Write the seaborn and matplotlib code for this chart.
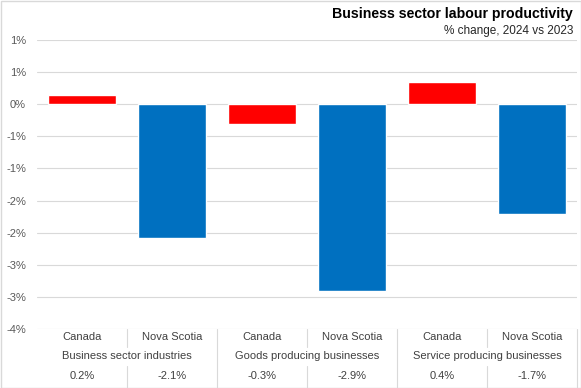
import numpy as np
import pandas as pd
import seaborn as sns
import matplotlib
matplotlib.use('Agg')
from matplotlib import pyplot as plt
from matplotlib.transforms import blended_transform_factory

# data
regions = ['Canada', 'Nova Scotia', 'Canada', 'Nova Scotia', 'Canada', 'Nova Scotia']
groups = ['Business sector industries', 'Goods producing businesses', 'Service producing businesses']
values = [0.14, -2.09, -0.31, -2.91, 0.34, -1.71]
value_labels = ['0.2%', '-2.1%', '-0.3%', '-2.9%', '0.4%', '-1.7%']
yticks = [1.0, 0.5, 0.0, -0.5, -1.0, -1.5, -2.0, -2.5, -3.0, -3.5]
ytick_labels = ['1%', '1%', '0%', '-1%', '-1%', '-2%', '-2%', '-3%', '-3%', '-4%']

df = pd.DataFrame({'pos': [str(i) for i in range(len(values))], 'region': regions, 'value': values})

sns.set_style('white')
plt.rcParams['font.family'] = ['Liberation Sans', 'DejaVu Sans']

W, H = 581, 388
fig = plt.figure(figsize=(W / 100, H / 100), dpi=100)
ax = fig.add_axes([37 / W, 1 - 329 / H, 540 / W, 289 / H])

sns.barplot(data=df, x='pos', y='value', hue='region', dodge=False, width=0.76,
            palette={'Canada': '#ff0000', 'Nova Scotia': '#0070c0'}, legend=False,
            saturation=1, ax=ax)

ax.set_xlim(-0.5, 5.5)
ax.set_ylim(-3.5, 1.0)
ax.set_yticks(yticks)
ax.set_yticklabels(ytick_labels, fontsize=8, color='#595959')
ax.tick_params(axis='y', length=0, pad=8)
ax.set_xticks([])
ax.set_xlabel('')
ax.set_ylabel('')
for s in ax.spines.values():
    s.set_visible(False)
for y in yticks:
    ax.axhline(y, color='#d9d9d9', lw=0.8, zorder=0)

# category table under the axis
tr = blended_transform_factory(ax.transData, fig.transFigure)
row1, row2, row3 = 1 - 337 / H, 1 - 356 / H, 1 - 376 / H
txt = dict(transform=tr, ha='center', va='center', fontsize=8, color='#404040')
for i, (r, lab) in enumerate(zip(regions, value_labels)):
    ax.text(i, row1, r, **txt)
    ax.text(i, row3, lab, **txt)
for g, name in enumerate(groups):
    ax.text(2 * g + 0.5, row2, name, **txt)

lc = '#d9d9d9'
for b in [1.5, 3.5, 5.5]:
    ax.plot([b, b], [1 - 329 / H, 0], transform=tr, color=lc, lw=0.8, clip_on=False)
for b in [0.5, 2.5, 4.5]:
    ax.plot([b, b], [1 - 329 / H, 1 - 347 / H], transform=tr, color=lc, lw=0.8, clip_on=False)
    ax.plot([b, b], [1 - 366 / H, 0], transform=tr, color=lc, lw=0.8, clip_on=False)

# titles
fig.text(573 / W, 1 - 14 / H, 'Business sector labour productivity', ha='right', va='center',
         fontsize=10.2, fontweight='bold', color='black')
fig.text(573 / W, 1 - 31 / H, '% change, 2024 vs 2023', ha='right', va='center',
         fontsize=8.5, color='#262626')

# outer frame
fig.patches.append(plt.Rectangle((0.5 / W, 0.5 / H), 1 - 1 / W, 1 - 1 / H, transform=fig.transFigure,
                                 fill=False, edgecolor='#d9d9d9', lw=1))

fig.savefig('out.png', dpi=100)
